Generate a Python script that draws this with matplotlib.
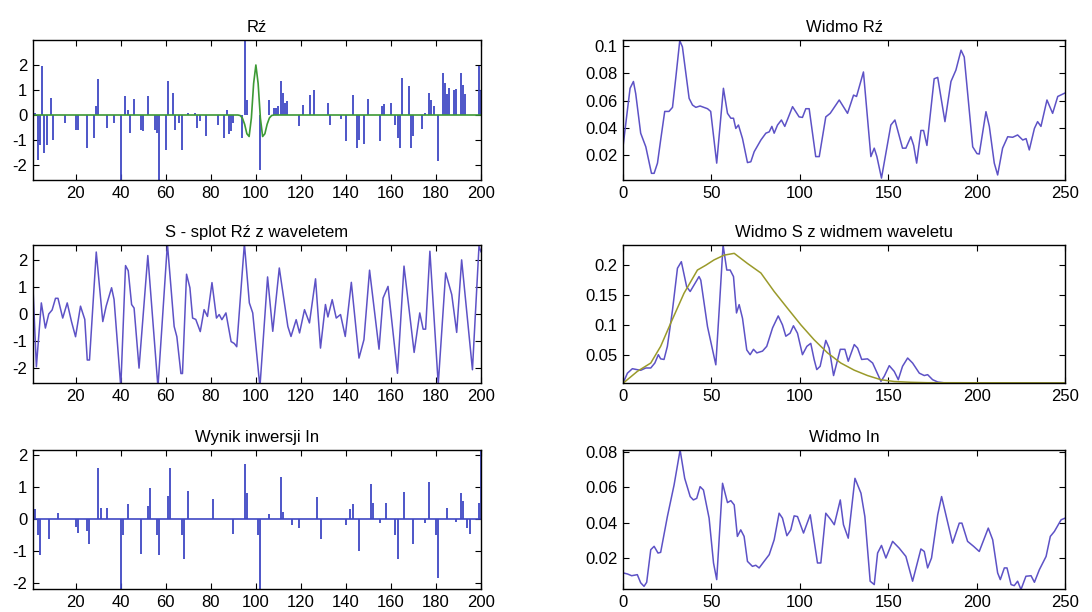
import numpy as np
import matplotlib
matplotlib.use("Agg")
import matplotlib.pyplot as plt

plt.rcParams['font.family'] = ['Liberation Sans', 'DejaVu Sans']
plt.rcParams['axes.unicode_minus'] = False

# --- data ---
# Rz: sparse reflectivity, (sample, value), zero elsewhere
rz_spikes = [(2, 0.1), (3, -1.8), (4, -1.2), (5, 1.95), (6, -1.5), (7, -1.2), (9, 0.7), (10, -1.0),
             (15, -0.3), (20, -0.6), (21, -0.6), (25, -1.3), (28, -0.9), (29, 0.35), (30, 1.45),
             (34, -0.5), (37, -0.3), (40, -2.8), (42, 0.75), (43, 0.2), (44, -0.7), (46, 0.65),
             (49, -0.6), (50, -0.65), (52, 0.75), (55, -0.6), (56, -0.7), (57, -2.8), (60, -1.4),
             (61, 1.35), (63, 0.9), (64, -0.6), (66, -0.3), (67, -1.4), (70, 0.1), (73, 0.1),
             (74, -0.5), (75, -0.25), (78, -0.85), (83, -0.4), (86, -0.9), (87, 0.2), (88, -0.75),
             (89, -0.65), (90, -0.3), (94, -0.9), (95, 3.0), (96, 0.6), (102, -2.2), (106, 0.6),
             (108, 0.3), (109, 0.3), (110, 0.35), (111, 1.35), (112, 0.9), (113, 0.5), (114, 0.55),
             (119, -0.45), (121, 0.4), (124, 0.8), (126, 1.0), (132, 0.5), (133, -0.4), (138, -0.15),
             (140, -1.05), (143, 0.8), (145, -1.3), (146, -1.0), (148, -1.15), (150, 0.65),
             (155, -1.05), (156, 0.35), (157, 0.45), (160, 0.5), (162, -0.4), (163, -0.9),
             (164, -1.3), (165, 1.5), (168, 1.15), (169, -1.3), (170, -0.85), (174, -0.55),
             (175, 0.1), (177, 0.9), (178, 0.6), (179, 0.35), (181, -1.85), (183, 1.7), (184, 1.3),
             (185, 0.85), (186, 1.1), (188, 1.0), (189, 1.05), (191, 1.7), (192, 1.2), (193, 0.85),
             (199, 1.95), (200, 1.0)]

# wavelet drawn on top of Rz (sample, value), zero elsewhere
wavelet_pts = [(93, -0.02), (94, -0.12), (95, -0.37), (96, -0.75), (97, -0.86), (98, -0.12),
               (99, 1.26), (100, 2.0), (101, 1.26), (102, -0.12), (103, -0.86), (104, -0.75),
               (105, -0.37), (106, -0.12), (107, -0.02)]

# S: convolution trace, vertices (sample, value)
s_pts = [(1, 0.95), (2.5, -1.95), (4.7, 0.41), (6.5, -0.52), (8, 0), (9.5, 0.15), (11, 0.58),
         (12.1, 0.58), (14.2, -0.15), (16.2, 0.41), (18.1, -0.28), (19.9, -0.84), (22.1, 0.29),
         (24, -0.2), (25.1, -1.7), (26.1, -1.7), (29.1, 2.29), (32, -0.28), (33.5, 0.29),
         (35.9, 0.97), (37, 0.54), (40, -2.7), (42.1, 1.79), (43.3, 1.6), (44.8, 0.35),
         (45.9, 0.22), (48.1, -2.0), (52, 2.16), (56.5, -2.7), (60.7, 2.6), (63.7, -0.46),
         (64.9, -0.84), (66.7, -2.2), (67.4, -2.2), (69.2, 1.47), (70.7, 0.97), (71.9, -0.15),
         (73.3, -0.2), (75.3, -0.65), (77, 0.16), (78.5, -0.09), (80.5, 1.16), (82.5, -0.15),
         (83.7, -0.02), (84.9, -0.21), (86.7, 0.04), (89, -1.02), (90.4, -1.09), (91.5, -1.21),
         (94.9, 2.6), (97.1, 0.41), (98.6, 0.04), (101.8, -2.7), (105.2, 1.37), (107.5, -0.64),
         (110.4, 1.7), (114.2, -0.46), (115.6, -0.83), (117.9, -0.21), (119.4, -0.7),
         (121.6, 0.16), (123.8, -0.33), (126.5, 1.3), (128.7, -1.26), (130.9, 0.35), (132, -0.11),
         (133.9, 0.53), (135.7, -0.15), (137.6, -0.02), (139.7, -0.83), (142.4, 1.17),
         (145.8, -1.63), (148, -0.95), (150.5, 1.62), (154.7, -1.3), (156.5, 0.59), (158.7, 1.02),
         (162.9, -2.19), (165.8, 1.77), (170.3, -1.42), (172.8, 0.04), (174.3, -0.56),
         (175.4, -0.56), (177.3, 2.32), (181, -2.6), (184.3, 1.52), (187, 0.72), (189.2, -0.68),
         (191.4, 2.0), (196.2, -2.06), (199.1, 2.5), (200, 2.3)]

# In: inversion result, (sample, value), zero elsewhere
in_spikes = [(1, 0.6), (2, 0.3), (3, -0.5), (4, -1.15), (8, -0.62), (12, 0.17), (20, -0.25),
             (21, -0.45), (25, -0.4), (26, -0.8), (30, 1.6), (31, 0.35), (34, 0.33), (40, -2.3),
             (41, -0.5), (43, 0.45), (49, -1.1), (52, 0.4), (53, 0.96), (56, -0.5), (57, -1.15),
             (61, 0.7), (62, 1.6), (67, -0.5), (68, -1.25), (70, 0.88), (81, 0.62), (90, -0.47),
             (95, 1.72), (96, 0.8), (101, -0.5), (102, -2.3), (106, 0.15), (111, 1.3), (112, 0.2),
             (116, -0.2), (119, -0.3), (127, 0.68), (129, -0.62), (140, -0.2), (142, 0.3),
             (143, 0.45), (146, -1.0), (151, 1.1), (152, 0.5), (155, -0.15), (158, 0.5),
             (162, -0.5), (163, -1.25), (166, 0.83), (170, -0.78), (175, -0.15), (177, 1.15),
             (180, -0.5), (181, -1.87), (185, 0.33), (189, -0.1), (191, 0.8), (192, 0.55),
             (194, -0.3), (195, -0.47), (199, 0.5), (200, 2.12)]

# spectrum of Rz
spec_rz = [(0, 0.026), (2.5, 0.053), (4, 0.069), (5.9, 0.074), (7.2, 0.065), (10, 0.036),
           (12.9, 0.026), (16.1, 0.0065), (17.6, 0.0065), (19.5, 0.014), (21.3, 0.031),
           (23.6, 0.052), (26, 0.052), (28, 0.055), (29.8, 0.076), (32.1, 0.104), (33.6, 0.0995),
           (37.4, 0.0616), (39.3, 0.0567), (41.2, 0.055), (43.6, 0.056), (47.8, 0.054),
           (49.6, 0.052), (53, 0.014), (56.8, 0.069), (59.1, 0.0506), (61, 0.047), (62.5, 0.047),
           (63.8, 0.0395), (65.3, 0.042), (67.6, 0.032), (70.4, 0.0144), (72.3, 0.015),
           (74.2, 0.0224), (78, 0.031), (80.8, 0.036), (82.7, 0.037), (84.2, 0.041), (85.5, 0.036),
           (87.4, 0.042), (89.6, 0.0457), (91.5, 0.041), (95.9, 0.0555), (99.6, 0.048),
           (101.5, 0.0476), (103.4, 0.054), (105.3, 0.054), (109, 0.0188), (111, 0.0188),
           (114.7, 0.048), (117.2, 0.0506), (122.3, 0.0604), (127, 0.0506), (130.4, 0.064),
           (132.1, 0.063), (136, 0.081), (140.2, 0.0188), (142.1, 0.025), (143.6, 0.0188),
           (146.2, 0.003), (151.5, 0.042), (153.8, 0.0457), (158.1, 0.025), (160, 0.025),
           (162.8, 0.0334), (164.4, 0.027), (166.1, 0.014), (168.5, 0.038), (170, 0.038),
           (171.9, 0.027), (176, 0.076), (178, 0.077), (182.1, 0.0445), (185.5, 0.074),
           (188.3, 0.0824), (191.2, 0.097), (193, 0.092), (197.8, 0.026), (200.2, 0.021),
           (201.5, 0.0207), (205.3, 0.0518), (207.2, 0.041), (210, 0.014), (211.9, 0.0053),
           (214.7, 0.025), (217.6, 0.0334), (220.4, 0.033), (223.2, 0.0347), (226.1, 0.031),
           (228, 0.032), (229.8, 0.0237), (232.7, 0.0395), (234.5, 0.0445), (236.4, 0.041),
           (239.8, 0.0604), (243, 0.0506), (245.9, 0.063), (249.6, 0.0653), (250, 0.0655)]

# spectrum of S
spec_s = [(0, 0.002), (2.5, 0.019), (5.3, 0.0265), (7.8, 0.025), (10, 0.0238), (12.9, 0.0277),
          (15.7, 0.0277), (18, 0.036), (20, 0.05), (21.3, 0.043), (23.2, 0.042), (25.1, 0.064),
          (28, 0.125), (30.8, 0.195), (33, 0.206), (36, 0.164), (38, 0.156), (40.2, 0.167),
          (43, 0.181), (44, 0.175), (47.8, 0.097), (52.5, 0.033), (54.4, 0.125), (56.6, 0.234),
          (58.7, 0.192), (60.6, 0.192), (62.5, 0.181), (64.2, 0.12), (65.7, 0.134), (67.6, 0.111),
          (70, 0.058), (71.9, 0.05), (73.8, 0.059), (75.7, 0.053), (78.9, 0.056), (81.3, 0.064),
          (84.6, 0.095), (87.8, 0.115), (90.2, 0.1), (92.1, 0.081), (94.5, 0.086), (96.4, 0.0985),
          (98.7, 0.086), (101.5, 0.05), (104, 0.064), (106.2, 0.069), (108.1, 0.042),
          (109.6, 0.025), (111.5, 0.0305), (114.7, 0.074), (116.6, 0.061), (119.1, 0.015),
          (122.9, 0.059), (125.5, 0.059), (127.4, 0.039), (130.8, 0.067), (132.7, 0.061),
          (135, 0.042), (138.3, 0.043), (141.2, 0.036), (145.9, 0.0053), (147.8, 0.014),
          (150.6, 0.0316), (153.4, 0.022), (155.7, 0.0081), (158.1, 0.0305), (161, 0.0444),
          (163.8, 0.036), (167.6, 0.019), (170.4, 0.015), (172.3, 0.0165), (175.1, 0.0081),
          (178, 0.0042), (181.7, 0.0028), (191.2, 0.0026), (250, 0.0026)]

# spectrum of the wavelet
spec_wav = [(0, 0.002), (8.1, 0.022), (15.7, 0.036), (21.3, 0.064), (27, 0.103), (34.5, 0.153),
            (42.1, 0.192), (46.8, 0.2), (51.5, 0.209), (57.2, 0.217), (62.9, 0.22), (70.4, 0.203),
            (78, 0.187), (85.5, 0.156), (93, 0.128), (100.6, 0.1), (108.1, 0.075), (115.7, 0.053),
            (123.2, 0.036), (130.8, 0.024), (138.3, 0.015), (145.9, 0.008), (153.4, 0.005),
            (162.8, 0.0037), (172.3, 0.003), (250, 0.0027)]

# spectrum of In
spec_in = [(0, 0.0116), (2.5, 0.011), (4.9, 0.010), (8.1, 0.0106), (10, 0.006), (11.9, 0.004),
           (13.4, 0.0063), (15.7, 0.0247), (17.6, 0.0266), (19.8, 0.0228), (21.3, 0.0232),
           (25.1, 0.0434), (28.9, 0.0613), (32.3, 0.081), (34.9, 0.065), (38, 0.0547),
           (39.8, 0.0528), (41.7, 0.0537), (43.6, 0.0603), (45.5, 0.0584), (48.7, 0.0425),
           (51.2, 0.0172), (53, 0.0078), (56.3, 0.0622), (59.1, 0.0513), (61, 0.0524),
           (62.9, 0.05), (64.7, 0.0322), (66.6, 0.0359), (68.5, 0.0322), (70.4, 0.0181),
           (73.2, 0.0153), (75.1, 0.0159), (77, 0.0144), (79.8, 0.0181), (82.7, 0.0219),
           (85.5, 0.0303), (88.3, 0.0453), (90.2, 0.0425), (92.7, 0.0326), (94.9, 0.0359),
           (96.8, 0.0438), (98.7, 0.0434), (102.1, 0.0341), (105.9, 0.0444), (110, 0.0172),
           (111.9, 0.0172), (114.7, 0.0453), (117.6, 0.0416), (119.5, 0.0388), (122.9, 0.0528),
           (124.7, 0.0388), (127.4, 0.0312), (131.2, 0.065), (134.6, 0.0566), (136.8, 0.0434),
           (139.8, 0.0069), (142.1, 0.005), (144, 0.0228), (146.2, 0.0271), (148.7, 0.02),
           (152.5, 0.0294), (156.2, 0.0256), (160, 0.0209), (163.8, 0.0069), (168.5, 0.0251),
           (170.4, 0.0237), (172.3, 0.0144), (174.5, 0.02), (178, 0.0444), (180.2, 0.0547),
           (186.4, 0.0284), (190.2, 0.0397), (191.7, 0.0397), (194.9, 0.0294), (198.3, 0.0266),
           (201.5, 0.0237), (206.6, 0.0369), (209.1, 0.0303), (211.9, 0.0116), (213.4, 0.0078),
           (215.7, 0.0144), (217.2, 0.0144), (219.5, 0.005), (221.3, 0.0044), (223.2, 0.0069),
           (225.1, 0.0022), (227.9, 0.0097), (230.8, 0.01), (232.7, 0.0063), (235.5, 0.0134),
           (239.3, 0.0209), (241.7, 0.0322), (244, 0.035), (247.8, 0.0416), (250, 0.0425)]

titles = ['Rź', 'Widmo Rź', 'S - splot Rź z waveletem', 'Widmo S z widmem waveletu',
          'Wynik inwersji In', 'Widmo In']

n = np.arange(1, 201)


def spikes_to_trace(spikes):
    y = np.zeros(len(n))
    for k, v in spikes:
        y[k - 1] = v
    return y


def xy(pts):
    a = np.array(pts)
    return a[:, 0], a[:, 1]


BLUE = '#3f48c4'
LAV = '#5d52c6'
GREEN = '#3d9a35'
OLIVE = '#9a9a2a'

fig = plt.figure(figsize=(10.92, 6.12), dpi=100)
W, H = 1092.0, 612.0


def make_ax(x0, x1, y0, y1):
    ax = fig.add_axes([x0 / W, 1 - y1 / H, (x1 - x0) / W, (y1 - y0) / H])
    ax.tick_params(direction='in', top=True, right=True, length=4, width=0.8,
                   labelsize=12, pad=4)
    for s in ax.spines.values():
        s.set_linewidth(1.0)
    return ax


lx0, lx1 = 33, 481
rx0, rx1 = 623, 1065
rows = [(40, 180), (245, 383), (450, 589)]

# left column
ax = make_ax(lx0, lx1, *rows[0])
rz = spikes_to_trace(rz_spikes)
ax.vlines(n, 0, rz, color=BLUE, lw=1.3)
ax.plot(n, spikes_to_trace(wavelet_pts), color=GREEN, lw=1.2)
ax.set_ylim(-2.6, 3.0)
ax.set_yticks([-2, -1, 0, 1, 2])

ax2 = make_ax(lx0, lx1, *rows[1])
sx, sy = xy(s_pts)
ax2.plot(sx, sy, color=LAV, lw=1.1)
ax2.set_ylim(-2.55, 2.55)
ax2.set_yticks([-2, -1, 0, 1, 2])

ax3 = make_ax(lx0, lx1, *rows[2])
inv = spikes_to_trace(in_spikes)
ax3.vlines(n, 0, inv, color=BLUE, lw=1.3)
ax3.plot(n, np.zeros(len(n)), color=BLUE, lw=1.2)
ax3.set_ylim(-2.2, 2.15)
ax3.set_yticks([-2, -1, 0, 1, 2])

for a in (ax, ax2, ax3):
    a.set_xlim(1, 200)
    a.set_xticks(range(20, 201, 20))

# right column
bx = make_ax(rx0, rx1, *rows[0])
px, py = xy(spec_rz)
bx.plot(px, py, color=LAV, lw=1.1)
bx.set_ylim(0.0016, 0.1045)
bx.set_yticks([0.02, 0.04, 0.06, 0.08, 0.1])

bx2 = make_ax(rx0, rx1, *rows[1])
px, py = xy(spec_s)
bx2.plot(px, py, color=LAV, lw=1.1)
px, py = xy(spec_wav)
bx2.plot(px, py, color=OLIVE, lw=1.1)
bx2.set_ylim(0.0025, 0.234)
bx2.set_yticks([0.05, 0.1, 0.15, 0.2])

bx3 = make_ax(rx0, rx1, *rows[2])
px, py = xy(spec_in)
bx3.plot(px, py, color=LAV, lw=1.1)
bx3.set_ylim(0.0025, 0.081)
bx3.set_yticks([0.02, 0.04, 0.06, 0.08])

for a in (bx, bx2, bx3):
    a.set_xlim(0, 250)
    a.set_xticks(range(0, 251, 50))

for a, t in zip((ax, bx, ax2, bx2, ax3, bx3), titles):
    a.set_title(t, fontsize=12, pad=6)
    a.set_yticklabels(['%g' % v for v in a.get_yticks()])

fig.savefig('out.png', dpi=100)
